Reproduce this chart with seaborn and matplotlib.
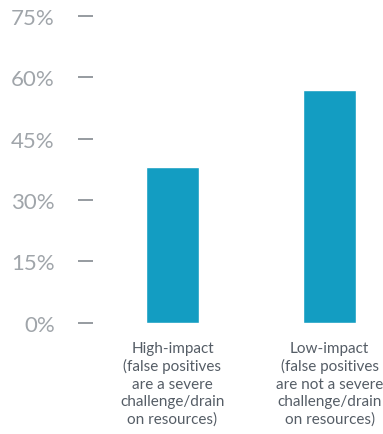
import matplotlib
matplotlib.use("Agg")
import matplotlib.pyplot as plt
import seaborn as sns
import pandas as pd

categories = [
    "High-impact\n(false positives\nare a severe\nchallenge/drain\non resources)",
    "Low-impact\n(false positives\nare not a severe\nchallenge/drain\non resources)",
]
values = [38, 57]
yticks = [0, 15, 30, 45, 60, 75]
ytick_labels = ["0%", "15%", "30%", "45%", "60%", "75%"]

df = pd.DataFrame({"group": categories, "share": values})

sns.set_theme(style="white")
plt.rcParams["font.family"] = ["Lato", "DejaVu Sans"]

fig = plt.figure(figsize=(3.83, 4.35), dpi=100)
ax = fig.add_axes([93 / 383, (435 - 323.5) / 435, (383 - 93) / 383, (323.5 - 17) / 435])

sns.barplot(data=df, x="group", y="share", color="#139dc2", saturation=1,
            width=0.34, ax=ax)

ax.set_xlim(-0.506, 1.34)
ax.set_ylim(0, 75)
ax.set_yticks(yticks)
ax.set_yticklabels(ytick_labels)
ax.set_xlabel("")
ax.set_ylabel("")
for s in ax.spines.values():
    s.set_visible(False)

ax.tick_params(axis="y", length=11, width=1.3, color="#8e9399", pad=16.5,
               labelsize=16, labelcolor="#a0a5aa", left=True)
ax.tick_params(axis="x", length=0, pad=13, labelsize=11, labelcolor="#555d66")
for t in ax.get_xticklabels():
    t.set_linespacing(1.3)
    t.set_ha("center")

fig.savefig("out.png", dpi=100)
